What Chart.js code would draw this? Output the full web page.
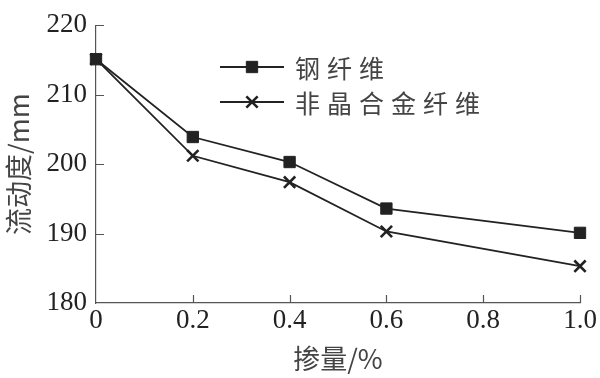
<!DOCTYPE html>
<html>
<head>
<meta charset="utf-8">
<script src="https://cdn.jsdelivr.net/npm/chart.js@4"></script>
<style>
  html, body { margin: 0; padding: 0; background: #fff; }
  #wrap { width: 600px; height: 378px; }
</style>
</head>
<body>
<div id="wrap"><canvas id="flow"></canvas></div>
<script>
// dosage (%) on x, flowability (mm) on y
const dosage = [0, 0.2, 0.4, 0.6, 1.0]
const steelFiber = [215.1, 203.9, 200.3, 193.6, 190.1]
const alloyFiber = [215.1, 201.2, 197.4, 190.3, 185.3]
const seriesNames = ['钢纤维', '非晶合金纤维']
const xTickLabels = ['0', '0.2', '0.4', '0.6', '0.8', '1.0']
const yTickValues = [180, 190, 200, 210, 220]

const ink = '#222'
const axisGrey = '#555'
const numFont = { family: '"Liberation Serif", "DejaVu Serif", serif', size: 27 }
const cjkFont = { family: '"Noto Sans CJK SC", "Noto Sans", sans-serif', size: 27 }

function pts(vals) {
    return dosage.map((d, i) => ({ x: d, y: vals[i] }))
}

// short ticks pointing into the plot, plus the line+marker legend
const extras = {
    id: 'extras',
    afterDraw(chart) {
        const ctx = chart.ctx
        const xs = chart.scales.x, ys = chart.scales.y
        const area = chart.chartArea
        ctx.save()
        ctx.strokeStyle = axisGrey
        ctx.lineWidth = 1.2
        ctx.beginPath()
        xs.ticks.forEach(t => {
            if (t.value === 0) return
            const px = Math.round(xs.getPixelForValue(t.value)) + 0.5
            ctx.moveTo(px, area.bottom)
            ctx.lineTo(px, area.bottom - 8)
        })
        ys.ticks.forEach(t => {
            if (t.value === 180) return
            const py = Math.round(ys.getPixelForValue(t.value)) + 0.5
            ctx.moveTo(area.left, py)
            ctx.lineTo(area.left + 8, py)
        })
        ctx.stroke()

        // legend
        const rows = [67, 102]
        chart.data.datasets.forEach((ds, i) => {
            const y = rows[i]
            ctx.strokeStyle = ds.borderColor
            ctx.lineWidth = ds.borderWidth
            ctx.beginPath()
            ctx.moveTo(220, y)
            ctx.lineTo(284, y)
            ctx.stroke()
            ctx.fillStyle = ink
            ctx.strokeStyle = ink
            ctx.lineWidth = ds.pointBorderWidth
            Chart.helpers.drawPoint(ctx, {
                pointStyle: ds.pointStyle,
                radius: ds.pointRadius,
                borderWidth: ds.pointBorderWidth,
                rotation: 0
            }, 252, y)
            ctx.fillStyle = '#444'
            ctx.font = '25px "Noto Sans CJK SC", sans-serif'
            ctx.textBaseline = 'middle'
            // wide character pitch like the original
            Array.from(ds.label).forEach((ch, k) => {
                ctx.fillText(ch, 295 + k * 32, y + 1)
            })
        })
        ctx.restore()
    }
}

const config = {
    type: 'line',
    data: {
        datasets: [{
            label: seriesNames[0],
            data: pts(steelFiber),
            borderColor: ink,
            backgroundColor: ink,
            borderWidth: 1.8,
            pointStyle: 'rect',
            pointRadius: 8,
            pointBorderWidth: 1,
            pointBackgroundColor: ink,
            pointBorderColor: ink,
            clip: false
        }, {
            label: seriesNames[1],
            data: pts(alloyFiber),
            borderColor: ink,
            backgroundColor: ink,
            borderWidth: 1.8,
            pointStyle: 'crossRot',
            pointRadius: 8,
            pointBorderWidth: 2.6,
            pointBorderColor: ink,
            clip: false
        }]
    },
    options: {
        responsive: true,
        maintainAspectRatio: false,
        animation: false,
        layout: { padding: { top: 24, right: 20, left: 0, bottom: 0 } },
        plugins: { legend: { display: false }, tooltip: { enabled: false } },
        scales: {
            x: {
                type: 'linear',
                min: 0, max: 1,
                afterFit(s) { s.height = 75 },
                border: { color: axisGrey, width: 1.2 },
                grid: { display: false, drawTicks: false },
                ticks: {
                    stepSize: 0.2,
                    padding: 2,
                    color: ink,
                    font: numFont,
                    maxRotation: 0,
                    autoSkip: false,
                    callback: (v, i) => xTickLabels[i]
                },
                title: {
                    display: true,
                    text: '掺量/%',
                    color: '#444',
                    font: cjkFont,
                    padding: { top: 0, bottom: 3 }
                }
            },
            y: {
                min: 180, max: 220,
                afterFit(s) { s.width = 96 },
                afterBuildTicks(s) { s.ticks = yTickValues.map(v => ({ value: v })) },
                border: { color: axisGrey, width: 1.2 },
                grid: { display: false, drawTicks: false },
                ticks: {
                    padding: 9,
                    color: ink,
                    font: numFont
                },
                title: {
                    display: true,
                    text: '流动度/mm',
                    color: '#444',
                    font: cjkFont,
                    padding: { top: 3, bottom: 0 }
                }
            }
        }
    },
    plugins: [extras]
}

const flowChart = new Chart(document.getElementById('flow'), config)
</script>
</body>
</html>
